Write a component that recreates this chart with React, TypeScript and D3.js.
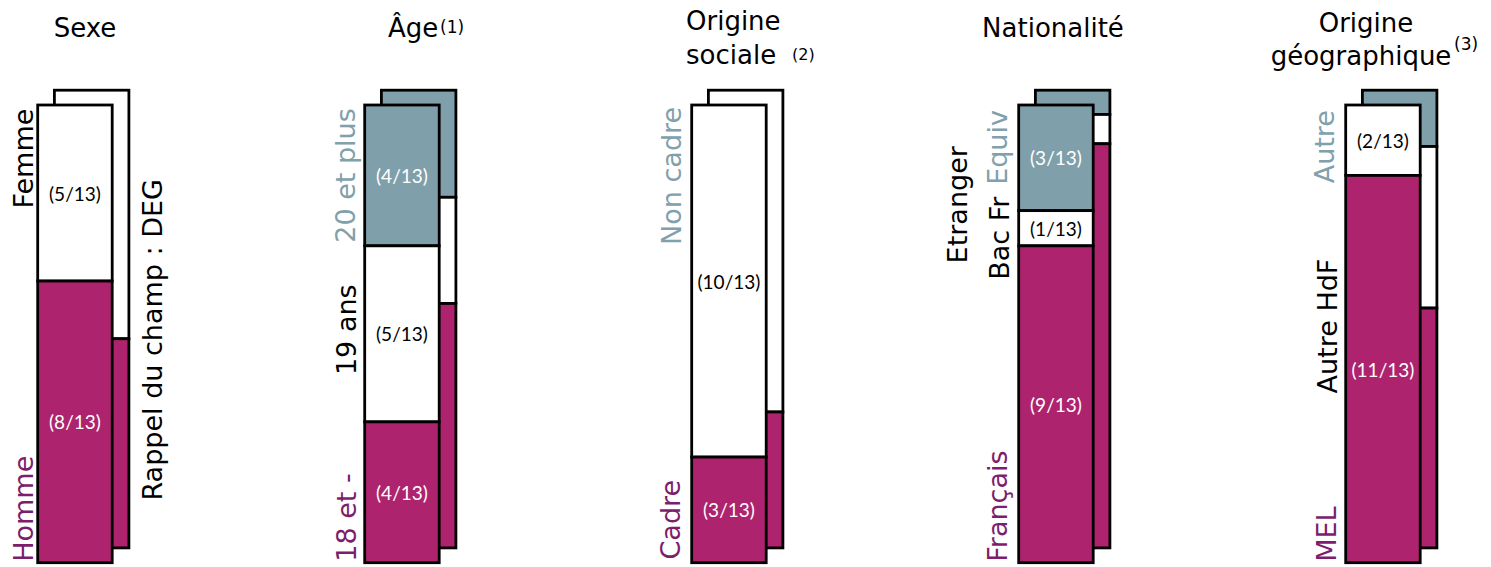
import React from "react";
import * as d3 from "d3";

// ---------- DATA ----------
const groups = ["Sexe", "Âge", "Origine sociale", "Nationalité", "Origine géographique"];

// categories listed top -> bottom of each bar
const sexeCategories = ["Femme", "Homme"];
const sexeCounts = [5, 8];
const sexeReference = [54.3, 45.7];

const ageCategories = ["20 et plus", "19 ans", "18 et -"];
const ageCounts = [4, 5, 4];
const ageReference = [23.4, 23.2, 53.4];

const socialeCategories = ["Non cadre", "Cadre"];
const socialeCounts = [10, 3];
const socialeReference = [70.3, 29.7];

const nationaliteCategories = ["Etranger Equiv", "Etranger Bac Fr", "Français"];
const nationaliteCounts = [3, 1, 9];
const nationaliteReference = [5.3, 6.4, 88.3];

const geoCategories = ["Autre", "Autre HdF", "MEL"];
const geoCounts = [0, 2, 11];
const geoReference = [12.3, 35.3, 52.4];

const total = 13;
const referenceLabel = "Rappel du champ : DEG";

// ---------- STYLE / LAYOUT ----------
const W = 1491;
const H = 567;
const MAGENTA = "#AE236E";
const GREY = "#7F9FAB";
const PURPLE_TXT = "#7D1D6C";
const GREY_TXT = "#80A0AC";
const colorsTopDown3 = [GREY, "#FFFFFF", MAGENTA];
const colorsTopDown2 = ["#FFFFFF", MAGENTA];
const FONT = "'DejaVu Sans', Verdana, sans-serif";
const NUMFONT = "Lato, 'Open Sans', sans-serif";

const BAR_TOP = 105;
const BAR_BOTTOM = 562.7;
const BACK_DX = 16.7;
const BACK_DY = -14.8;
const STROKE = 2.8;
const LABEL_SIZE = 27;

type Lbl = { text: string; color: string; dx: number; frac: number; anchor: "start" | "middle" | "end" };

const groupData = [
  { cats: sexeCategories, counts: sexeCounts, ref: sexeReference, colors: colorsTopDown2 },
  { cats: ageCategories, counts: ageCounts, ref: ageReference, colors: colorsTopDown3 },
  { cats: socialeCategories, counts: socialeCounts, ref: socialeReference, colors: colorsTopDown2 },
  { cats: nationaliteCategories, counts: nationaliteCounts, ref: nationaliteReference, colors: colorsTopDown3 },
  { cats: geoCategories, counts: geoCounts, ref: geoReference, colors: colorsTopDown3 },
];

const labelLayout: Lbl[][] = [
  [
    { text: "Femme", color: "#000", dx: -5, frac: 0.008, anchor: "end" },
    { text: "Homme", color: PURPLE_TXT, dx: -5, frac: 0.998, anchor: "start" },
    { text: referenceLabel, color: "#000", dx: 124, frac: 0.513, anchor: "middle" },
  ],
  [
    { text: "20 et plus", color: GREY_TXT, dx: -10, frac: 0.007, anchor: "end" },
    { text: "19 ans", color: "#000", dx: -9, frac: 0.491, anchor: "middle" },
    { text: "18 et -", color: PURPLE_TXT, dx: -9, frac: 0.998, anchor: "start" },
  ],
  [
    { text: "Non cadre", color: GREY_TXT, dx: -11, frac: 0.004, anchor: "end" },
    { text: "Cadre", color: PURPLE_TXT, dx: -12, frac: 0.993, anchor: "start" },
  ],
  [
    { text: "Equiv", color: GREY_TXT, dx: -12, frac: 0.011, anchor: "end" },
    { text: "Bac Fr", color: "#000", dx: -10, frac: 0.382, anchor: "start" },
    { text: "Etranger", color: "#000", dx: -52, frac: 0.218, anchor: "middle" },
    { text: "Français", color: PURPLE_TXT, dx: -12, frac: 0.998, anchor: "start" },
  ],
  [
    { text: "Autre", color: GREY_TXT, dx: -12, frac: 0.011, anchor: "end" },
    { text: "Autre HdF", color: "#000", dx: -9, frac: 0.483, anchor: "middle" },
    { text: "MEL", color: PURPLE_TXT, dx: -10, frac: 0.998, anchor: "start" },
  ],
];

function stackTopDown(values: number[]) {
  const sum = d3.sum(values);
  const cum = d3.cumsum(values);
  return values.map((v, i) => ({ y0: (cum[i] - v) / sum, y1: cum[i] / sum, v }));
}

export default function App() {
  const x = d3
    .scaleBand<string>()
    .domain(groups)
    .range([37.7, 37.7 + 4 * 327 + 74.5])
    .paddingInner(1 - 74.5 / 327)
    .paddingOuter(0);
  const y = d3.scaleLinear().domain([0, 1]).range([BAR_TOP, BAR_BOTTOM]);
  const bw = x.bandwidth();

  return (
    <svg width={W} height={H} style={{ position: "absolute", left: 0, top: 0, background: "#fff" }}>
      <rect x={0} y={0} width={W} height={H} fill="#fff" />
      {groups.map((g, gi) => {
        const gd = groupData[gi];
        const x0 = x(g)!;
        const front = stackTopDown(gd.counts);
        const back = stackTopDown(gd.ref);
        return (
          <g key={g}>
            {/* reference (DEG) bar behind */}
            <g transform={`translate(${BACK_DX},${BACK_DY})`}>
              {back.map((s, i) =>
                s.v > 0 ? (
                  <rect
                    key={i}
                    x={x0}
                    y={y(s.y0)}
                    width={bw}
                    height={y(s.y1) - y(s.y0)}
                    fill={gd.colors[i]}
                    stroke="#000"
                    strokeWidth={STROKE}
                  />
                ) : null
              )}
            </g>
            {/* front bar */}
            {front.map((s, i) =>
              s.v > 0 ? (
                <rect
                  key={i}
                  x={x0}
                  y={y(s.y0)}
                  width={bw}
                  height={y(s.y1) - y(s.y0)}
                  fill={gd.colors[i]}
                  stroke="#000"
                  strokeWidth={STROKE}
                />
              ) : null
            )}
            {front.map((s, i) =>
              s.v > 0 ? (
                <text
                  key={"t" + i}
                  x={x0 + bw / 2}
                  y={(y(s.y0) + y(s.y1)) / 2}
                  textAnchor="middle"
                  dominantBaseline="central"
                  fontFamily={NUMFONT}
                  fontSize={19}
                  fill={gd.colors[i] === "#FFFFFF" ? "#000" : "#fff"}
                >
                  {`(${s.v}/${total})`}
                </text>
              ) : null
            )}
            {labelLayout[gi].map((l, li) => {
              const tx = x0 + l.dx;
              const ty = y(l.frac);
              return (
                <text
                  key={"l" + li}
                  transform={`translate(${tx},${ty}) rotate(-90)`}
                  textAnchor={l.anchor}
                  fontFamily={FONT}
                  fontSize={LABEL_SIZE}
                  fill={l.color}
                >
                  {l.text}
                </text>
              );
            })}
          </g>
        );
      })}
      {/* titles */}
      <g fontFamily={FONT} fill="#000">
        <text x={85} y={37} fontSize={26} textAnchor="middle">Sexe</text>
        <text x={388} y={37} fontSize={26}>
          Âge
        </text>
        <text x={440} y={33} fontSize={17}>(1)</text>
        <text x={686} y={30} fontSize={26}>Origine</text>
        <text x={686} y={64} fontSize={26}>sociale</text>
        <text x={792} y={60} fontSize={16}>(2)</text>
        <text x={1053} y={37} fontSize={26} textAnchor="middle">Nationalité</text>
        <text x={1366} y={32} fontSize={26} textAnchor="middle">Origine</text>
        <text x={1361} y={65} fontSize={26} textAnchor="middle">géographique</text>
        <text x={1454} y={50} fontSize={17}>(3)</text>
      </g>
    </svg>
  );
}
